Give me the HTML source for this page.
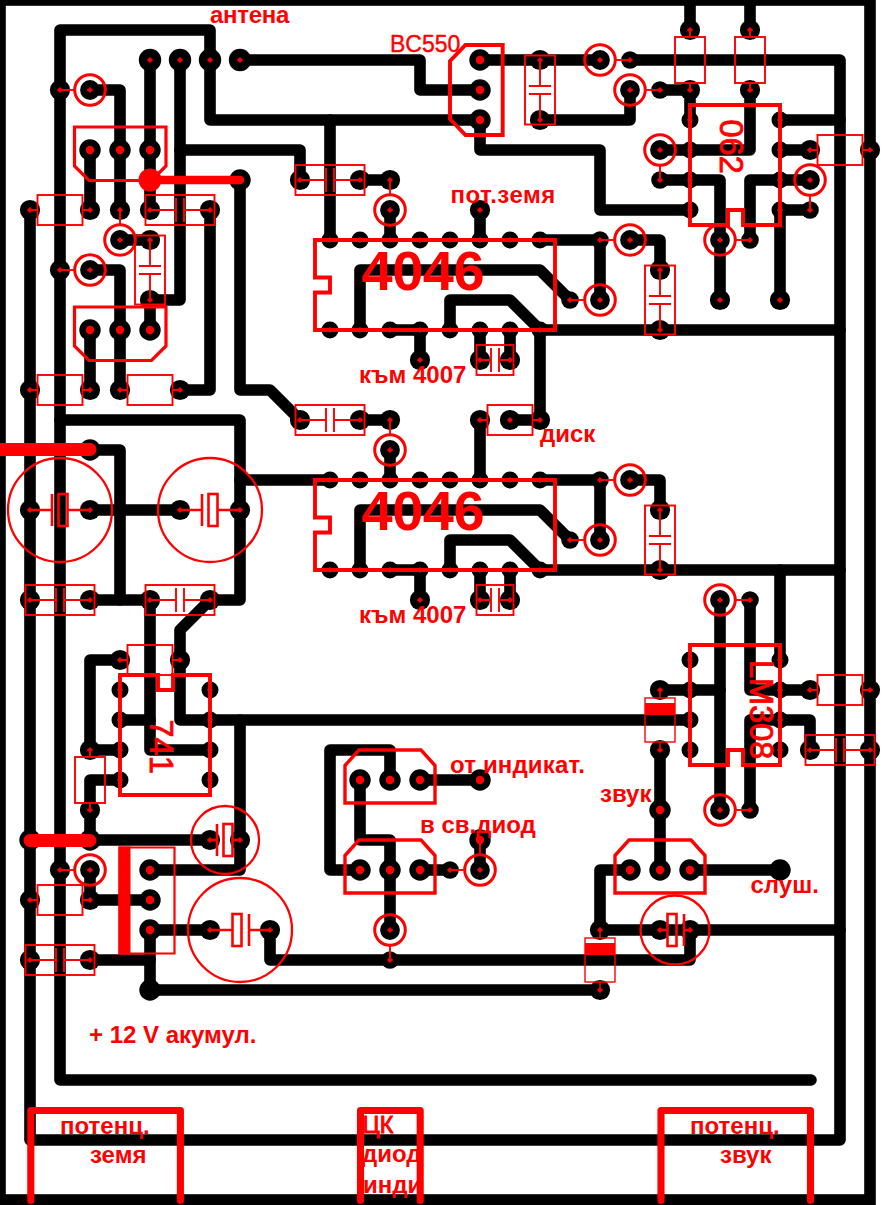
<!DOCTYPE html>
<html><head><meta charset="utf-8"><title>PCB</title>
<style>html,body{margin:0;padding:0;background:#fff}svg{display:block}</style></head>
<body>
<svg width="886" height="1205" viewBox="0 0 886 1205">
<rect width="886" height="1205" fill="#fff"/>
<g fill="none" stroke="#000" stroke-linecap="round" stroke-linejoin="round">
<rect x="0" y="0" width="870" height="1200" stroke-width="11.6" stroke-linejoin="miter"/>
<path d="M811,1080 L60,1080 L60,30 L210,30 L210,120 L480,120 L480,150 L600,150 L600,210 L690,210" stroke-width="11.6"/>
<path d="M60,420 L240,420 L240,600 L210,600 L180,630 L180,720 L690,720" stroke-width="11.6"/>
<path d="M330,120 L330,240" stroke-width="11.6"/>
<path d="M150,60 L150,210" stroke-width="11.6"/>
<path d="M180,60 L180,300 L150,300 L150,330" stroke-width="11.6"/>
<path d="M180,150 L300,150 L300,180" stroke-width="11.6"/>
<path d="M120,240 L150,240" stroke-width="11.6"/>
<path d="M240,60 L420,60 L420,90 L480,90" stroke-width="11.6"/>
<path d="M480,60 L600,60" stroke-width="11.6"/>
<path d="M630,60 L840,60 L840,1140 L30,1140 L30,210" stroke-width="11.6"/>
<path d="M90,90 L120,90 L120,210" stroke-width="11.6"/>
<path d="M90,150 L90,210" stroke-width="11.6"/>
<path d="M210,210 L210,390 L180,390" stroke-width="11.6"/>
<path d="M240,180 L240,390 L270,390 L300,420" stroke-width="11.6"/>
<path d="M90,270 L120,270 L120,390" stroke-width="11.6"/>
<path d="M90,330 L90,390" stroke-width="11.6"/>
<path d="M360,180 L390,180" stroke-width="11.6"/>
<path d="M390,210 L390,240" stroke-width="11.6"/>
<path d="M480,210 L480,240" stroke-width="11.6"/>
<path d="M540,240 L600,240 L600,300" stroke-width="11.6"/>
<path d="M630,240 L660,240 L660,270" stroke-width="11.6"/>
<path d="M630,90 L630,120 L540,120" stroke-width="11.6"/>
<path d="M660,90 L690,90 L690,120" stroke-width="11.6"/>
<path d="M690,0 L690,30" stroke-width="11.6"/>
<path d="M750,0 L750,30" stroke-width="11.6"/>
<path d="M750,90 L750,150 L660,150" stroke-width="11.6"/>
<path d="M660,180 L720,180 L720,300" stroke-width="11.6"/>
<path d="M780,120 L840,120" stroke-width="11.6"/>
<path d="M780,150 L810,150" stroke-width="11.6"/>
<path d="M810,180 L750,180 L750,240" stroke-width="11.6"/>
<path d="M810,210 L780,210 L780,300" stroke-width="11.6"/>
<path d="M360,330 L360,270 L540,270 L570,300" stroke-width="11.6"/>
<path d="M450,330 L450,300 L510,300 L540,330" stroke-width="11.6"/>
<path d="M390,330 L420,330 L420,360" stroke-width="11.6"/>
<path d="M480,330 L480,360" stroke-width="11.6"/>
<path d="M510,330 L510,360" stroke-width="11.6"/>
<path d="M510,420 L540,420 L540,330 L840,330" stroke-width="11.6"/>
<path d="M480,420 L480,480" stroke-width="11.6"/>
<path d="M360,420 L390,420" stroke-width="11.6"/>
<path d="M390,450 L390,480" stroke-width="11.6"/>
<path d="M240,480 L330,480" stroke-width="11.6"/>
<path d="M360,570 L360,510 L540,510 L570,540" stroke-width="11.6"/>
<path d="M450,570 L450,540 L510,540 L540,570" stroke-width="11.6"/>
<path d="M390,570 L420,570 L420,600" stroke-width="11.6"/>
<path d="M480,570 L480,600" stroke-width="11.6"/>
<path d="M510,570 L510,600" stroke-width="11.6"/>
<path d="M540,570 L840,570" stroke-width="11.6"/>
<path d="M540,480 L600,480 L600,540" stroke-width="11.6"/>
<path d="M630,480 L660,480 L660,510" stroke-width="11.6"/>
<path d="M780,570 L780,660" stroke-width="11.6"/>
<path d="M90,450 L120,450 L120,600" stroke-width="11.6"/>
<path d="M90,510 L180,510" stroke-width="11.6"/>
<path d="M90,600 L150,600 L150,750 L210,750" stroke-width="11.6"/>
<path d="M240,720 L240,870 L150,870" stroke-width="11.6"/>
<path d="M120,720 L150,720" stroke-width="11.6"/>
<path d="M120,660 L90,660 L90,750 L120,750" stroke-width="11.6"/>
<path d="M120,780 L90,780 L90,840 L210,840" stroke-width="11.6"/>
<path d="M90,870 L90,900 L150,900" stroke-width="11.6"/>
<path d="M150,930 L150,990 L600,990" stroke-width="11.6"/>
<path d="M90,960 L150,960" stroke-width="11.6"/>
<path d="M150,930 L210,930" stroke-width="11.6"/>
<path d="M270,930 L270,960 L690,960 L690,930" stroke-width="11.6"/>
<path d="M390,870 L390,930" stroke-width="11.6"/>
<path d="M390,780 L390,750 L330,750 L330,870 L360,870" stroke-width="11.6"/>
<path d="M360,780 L360,840 L390,840 L390,870" stroke-width="11.6"/>
<path d="M420,780 L480,780" stroke-width="11.6"/>
<path d="M420,870 L450,870" stroke-width="11.6"/>
<path d="M480,840 L480,870" stroke-width="11.6"/>
<path d="M660,750 L660,870" stroke-width="11.6"/>
<path d="M660,690 L720,690" stroke-width="11.6"/>
<path d="M720,600 L720,810" stroke-width="11.6"/>
<path d="M750,600 L750,690 L810,690" stroke-width="11.6"/>
<path d="M750,810 L750,720 L810,720 L810,750" stroke-width="11.6"/>
<path d="M690,870 L780,870" stroke-width="11.6"/>
<path d="M630,870 L600,870 L600,930 L840,930" stroke-width="11.6"/>
</g>
<g fill="#000">
<circle cx="150" cy="60" r="11.2"/>
<circle cx="180" cy="60" r="11.2"/>
<circle cx="210" cy="60" r="11.2"/>
<circle cx="240" cy="60" r="11.2"/>
<circle cx="60" cy="90" r="10.1"/>
<circle cx="90" cy="90" r="9.9"/>
<circle cx="90" cy="150" r="10.7"/>
<circle cx="120" cy="150" r="10.7"/>
<circle cx="150" cy="150" r="10.7"/>
<circle cx="30" cy="210" r="10.1"/>
<circle cx="90" cy="210" r="10.1"/>
<circle cx="120" cy="210" r="10.1"/>
<circle cx="150" cy="210" r="10.1"/>
<circle cx="210" cy="210" r="10.1"/>
<circle cx="240" cy="180" r="10.7"/>
<circle cx="120" cy="240" r="9.9"/>
<circle cx="150" cy="240" r="10.1"/>
<circle cx="150" cy="300" r="10.1"/>
<circle cx="60" cy="270" r="10.1"/>
<circle cx="90" cy="270" r="9.9"/>
<circle cx="90" cy="330" r="10.7"/>
<circle cx="120" cy="330" r="10.7"/>
<circle cx="150" cy="330" r="10.7"/>
<circle cx="30" cy="390" r="10.1"/>
<circle cx="90" cy="390" r="10.1"/>
<circle cx="120" cy="390" r="10.1"/>
<circle cx="180" cy="390" r="10.1"/>
<circle cx="90" cy="450" r="10.7"/>
<circle cx="30" cy="510" r="10.1"/>
<circle cx="90" cy="510" r="10.1"/>
<circle cx="180" cy="510" r="10.1"/>
<circle cx="240" cy="510" r="10.1"/>
<circle cx="30" cy="600" r="10.1"/>
<circle cx="90" cy="600" r="10.1"/>
<circle cx="150" cy="600" r="10.1"/>
<circle cx="210" cy="600" r="10.1"/>
<circle cx="120" cy="660" r="10.1"/>
<circle cx="180" cy="660" r="10.1"/>
<circle cx="90" cy="750" r="10.1"/>
<circle cx="90" cy="810" r="10.1"/>
<circle cx="30" cy="840" r="10.7"/>
<circle cx="90" cy="840" r="10.7"/>
<circle cx="210" cy="840" r="10.1"/>
<circle cx="240" cy="840" r="10.1"/>
<circle cx="60" cy="870" r="10.1"/>
<circle cx="90" cy="870" r="9.9"/>
<circle cx="30" cy="900" r="10.1"/>
<circle cx="90" cy="900" r="10.1"/>
<circle cx="150" cy="870" r="10.7"/>
<circle cx="150" cy="900" r="10.7"/>
<circle cx="150" cy="930" r="10.7"/>
<circle cx="30" cy="960" r="10.1"/>
<circle cx="90" cy="960" r="10.1"/>
<circle cx="150" cy="990" r="10.7"/>
<circle cx="210" cy="930" r="10.1"/>
<circle cx="270" cy="930" r="10.1"/>
<circle cx="480" cy="60" r="10.7"/>
<circle cx="480" cy="90" r="10.7"/>
<circle cx="480" cy="120" r="10.7"/>
<circle cx="540" cy="60" r="10.1"/>
<circle cx="540" cy="120" r="10.1"/>
<circle cx="600" cy="60" r="9.9"/>
<circle cx="630" cy="60" r="8.8"/>
<circle cx="630" cy="90" r="9.9"/>
<circle cx="660" cy="90" r="8.8"/>
<circle cx="690" cy="30" r="10.1"/>
<circle cx="690" cy="90" r="10.1"/>
<circle cx="750" cy="30" r="10.1"/>
<circle cx="750" cy="90" r="10.1"/>
<circle cx="660" cy="150" r="9.9"/>
<circle cx="660" cy="180" r="8.8"/>
<circle cx="810" cy="150" r="10.1"/>
<circle cx="870" cy="150" r="10.1"/>
<circle cx="810" cy="180" r="9.9"/>
<circle cx="810" cy="210" r="8.8"/>
<circle cx="720" cy="240" r="9.9"/>
<circle cx="750" cy="240" r="8.8"/>
<circle cx="600" cy="240" r="8.8"/>
<circle cx="630" cy="240" r="9.9"/>
<circle cx="660" cy="270" r="10.1"/>
<circle cx="660" cy="330" r="10.1"/>
<circle cx="570" cy="300" r="8.8"/>
<circle cx="600" cy="300" r="9.9"/>
<circle cx="720" cy="300" r="10.1"/>
<circle cx="780" cy="300" r="10.1"/>
<circle cx="300" cy="180" r="10.1"/>
<circle cx="360" cy="180" r="10.1"/>
<circle cx="390" cy="180" r="10.1"/>
<circle cx="390" cy="210" r="9.9"/>
<circle cx="480" cy="210" r="10.1"/>
<circle cx="420" cy="360" r="10.1"/>
<circle cx="480" cy="360" r="10.1"/>
<circle cx="510" cy="360" r="10.1"/>
<circle cx="300" cy="420" r="10.1"/>
<circle cx="360" cy="420" r="10.1"/>
<circle cx="390" cy="420" r="10.1"/>
<circle cx="390" cy="450" r="9.9"/>
<circle cx="480" cy="420" r="10.1"/>
<circle cx="510" cy="420" r="10.1"/>
<circle cx="540" cy="420" r="10.1"/>
<circle cx="600" cy="480" r="8.8"/>
<circle cx="630" cy="480" r="9.9"/>
<circle cx="660" cy="510" r="10.1"/>
<circle cx="660" cy="570" r="10.1"/>
<circle cx="570" cy="540" r="8.8"/>
<circle cx="600" cy="540" r="9.9"/>
<circle cx="420" cy="600" r="10.1"/>
<circle cx="480" cy="600" r="10.1"/>
<circle cx="510" cy="600" r="10.1"/>
<circle cx="720" cy="600" r="9.9"/>
<circle cx="750" cy="600" r="8.8"/>
<circle cx="660" cy="690" r="10.1"/>
<circle cx="660" cy="750" r="10.1"/>
<circle cx="810" cy="690" r="10.1"/>
<circle cx="870" cy="690" r="10.1"/>
<circle cx="810" cy="750" r="10.1"/>
<circle cx="870" cy="750" r="10.1"/>
<circle cx="660" cy="810" r="10.7"/>
<circle cx="720" cy="810" r="9.9"/>
<circle cx="750" cy="810" r="8.8"/>
<circle cx="360" cy="780" r="10.7"/>
<circle cx="390" cy="780" r="10.7"/>
<circle cx="420" cy="780" r="10.7"/>
<circle cx="480" cy="780" r="10.7"/>
<circle cx="360" cy="870" r="10.7"/>
<circle cx="390" cy="870" r="10.7"/>
<circle cx="420" cy="870" r="10.7"/>
<circle cx="450" cy="870" r="8.8"/>
<circle cx="480" cy="870" r="9.9"/>
<circle cx="480" cy="840" r="10.7"/>
<circle cx="390" cy="930" r="9.9"/>
<circle cx="390" cy="960" r="8.8"/>
<circle cx="630" cy="870" r="10.7"/>
<circle cx="660" cy="870" r="10.7"/>
<circle cx="690" cy="870" r="10.7"/>
<circle cx="780" cy="870" r="10.7"/>
<circle cx="600" cy="930" r="10.1"/>
<circle cx="600" cy="990" r="10.1"/>
<circle cx="660" cy="930" r="10.1"/>
<circle cx="690" cy="930" r="10.1"/>
<circle cx="330" cy="240" r="8.5"/>
<circle cx="330" cy="330" r="8.5"/>
<circle cx="330" cy="480" r="8.5"/>
<circle cx="330" cy="570" r="8.5"/>
<circle cx="360" cy="240" r="8.5"/>
<circle cx="360" cy="330" r="8.5"/>
<circle cx="360" cy="480" r="8.5"/>
<circle cx="360" cy="570" r="8.5"/>
<circle cx="390" cy="240" r="8.5"/>
<circle cx="390" cy="330" r="8.5"/>
<circle cx="390" cy="480" r="8.5"/>
<circle cx="390" cy="570" r="8.5"/>
<circle cx="420" cy="240" r="8.5"/>
<circle cx="420" cy="330" r="8.5"/>
<circle cx="420" cy="480" r="8.5"/>
<circle cx="420" cy="570" r="8.5"/>
<circle cx="450" cy="240" r="8.5"/>
<circle cx="450" cy="330" r="8.5"/>
<circle cx="450" cy="480" r="8.5"/>
<circle cx="450" cy="570" r="8.5"/>
<circle cx="480" cy="240" r="8.5"/>
<circle cx="480" cy="330" r="8.5"/>
<circle cx="480" cy="480" r="8.5"/>
<circle cx="480" cy="570" r="8.5"/>
<circle cx="510" cy="240" r="8.5"/>
<circle cx="510" cy="330" r="8.5"/>
<circle cx="510" cy="480" r="8.5"/>
<circle cx="510" cy="570" r="8.5"/>
<circle cx="540" cy="240" r="8.5"/>
<circle cx="540" cy="330" r="8.5"/>
<circle cx="540" cy="480" r="8.5"/>
<circle cx="540" cy="570" r="8.5"/>
<circle cx="690" cy="120" r="8.5"/>
<circle cx="780" cy="120" r="8.5"/>
<circle cx="690" cy="150" r="8.5"/>
<circle cx="780" cy="150" r="8.5"/>
<circle cx="690" cy="180" r="8.5"/>
<circle cx="780" cy="180" r="8.5"/>
<circle cx="690" cy="210" r="8.5"/>
<circle cx="780" cy="210" r="8.5"/>
<circle cx="690" cy="660" r="8.5"/>
<circle cx="780" cy="660" r="8.5"/>
<circle cx="690" cy="690" r="8.5"/>
<circle cx="780" cy="690" r="8.5"/>
<circle cx="690" cy="720" r="8.5"/>
<circle cx="780" cy="720" r="8.5"/>
<circle cx="690" cy="750" r="8.5"/>
<circle cx="780" cy="750" r="8.5"/>
<circle cx="120" cy="690" r="8.5"/>
<circle cx="210" cy="690" r="8.5"/>
<circle cx="120" cy="720" r="8.5"/>
<circle cx="210" cy="720" r="8.5"/>
<circle cx="120" cy="750" r="8.5"/>
<circle cx="210" cy="750" r="8.5"/>
<circle cx="120" cy="780" r="8.5"/>
<circle cx="210" cy="780" r="8.5"/>
</g>
<g fill="none" stroke="#f00" stroke-width="1.9">
<rect x="37.5" y="195" width="45" height="30"/>
<path d="M30,210H37.5M82.5,210H90"/>
<rect x="37.5" y="375" width="45" height="30"/>
<path d="M30,390H37.5M82.5,390H90"/>
<rect x="127.5" y="375" width="45" height="30"/>
<path d="M120,390H127.5M172.5,390H180"/>
<rect x="127.5" y="645" width="45" height="30"/>
<path d="M120,660H127.5M172.5,660H180"/>
<rect x="37.5" y="885" width="45" height="30"/>
<path d="M30,900H37.5M82.5,900H90"/>
<rect x="487.5" y="405" width="45" height="30"/>
<path d="M480,420H487.5M532.5,420H540"/>
<rect x="817.5" y="135" width="45" height="30"/>
<path d="M810,150H817.5M862.5,150H870"/>
<rect x="817.5" y="675" width="45" height="30"/>
<path d="M810,690H817.5M862.5,690H870"/>
<rect x="675" y="37" width="30" height="46"/>
<path d="M690,30V37M690,83V90"/>
<rect x="735" y="37" width="30" height="46"/>
<path d="M750,30V37M750,83V90"/>
<rect x="75" y="757" width="30" height="46"/>
<path d="M90,750V757M90,803V810"/>
<rect x="145.5" y="195" width="69.0" height="30"/>
<path d="M150,210H176.0M184.0,210H210M176.0,198V222M184.0,198V222"/>
<rect x="295.5" y="165" width="69.0" height="30"/>
<path d="M300,180H326.0M334.0,180H360M326.0,168V192M334.0,168V192"/>
<rect x="295.5" y="405" width="69.0" height="30"/>
<path d="M300,420H326.0M334.0,420H360M326.0,408V432M334.0,408V432"/>
<rect x="25.5" y="585" width="69.0" height="30"/>
<path d="M30,600H56.0M64.0,600H90M56.0,588V612M64.0,588V612"/>
<rect x="145.5" y="585" width="69.0" height="30"/>
<path d="M150,600H176.0M184.0,600H210M176.0,588V612M184.0,588V612"/>
<rect x="25.5" y="945" width="69.0" height="30"/>
<path d="M30,960H56.0M64.0,960H90M56.0,948V972M64.0,948V972"/>
<rect x="805.5" y="735" width="69.0" height="30"/>
<path d="M810,750H836.0M844.0,750H870M836.0,738V762M844.0,738V762"/>
<rect x="476.5" y="345" width="37.0" height="30"/>
<path d="M480,360H491.0M499.0,360H510M491.0,348V372M499.0,348V372"/>
<rect x="476.5" y="585" width="37.0" height="30"/>
<path d="M480,600H491.0M499.0,600H510M491.0,588V612M499.0,588V612"/>
<rect x="135" y="235.5" width="30" height="69.0"/>
<path d="M150,240V266.0M150,274.0V300M139,266.0H161M139,274.0H161"/>
<rect x="525" y="55.5" width="30" height="69.0"/>
<path d="M540,60V86.0M540,94.0V120M529,86.0H551M529,94.0H551"/>
<rect x="645" y="265.5" width="30" height="69.0"/>
<path d="M660,270V296.0M660,304.0V330M649,296.0H671M649,304.0H671"/>
<rect x="645" y="505.5" width="30" height="69.0"/>
<path d="M660,510V536.0M660,544.0V570M649,536.0H671M649,544.0H671"/>
<path d="M60,90L76.0,90.0"/>
<path d="M60,270L76.0,270.0"/>
<path d="M120,210L120.0,226.0"/>
<path d="M390,180L390.0,196.0"/>
<path d="M390,420L390.0,436.0"/>
<path d="M630,60L614.0,60.0"/>
<path d="M660,90L644.0,90.0"/>
<path d="M660.0,164.0L660.0,180.0"/>
<path d="M810.0,194.0L810.0,210.0"/>
<path d="M734.0,240.0L750.0,240.0"/>
<path d="M600,240L616.0,240.0"/>
<path d="M570,300L586.0,300.0"/>
<path d="M600,480L616.0,480.0"/>
<path d="M570,540L586.0,540.0"/>
<path d="M734.0,600.0L750.0,600.0"/>
<path d="M734.0,810.0L750.0,810.0"/>
<path d="M450,870L466.0,870.0"/>
<path d="M480,840L480.0,856.0"/>
<path d="M390.0,944.0L390.0,960.0"/>
<path d="M60,870L76.0,870.0"/>
</g>
<g fill="none" stroke="#f00" stroke-width="1.4">
<rect x="645" y="698" width="30" height="44"/>
<rect x="645" y="703" width="30" height="12" fill="#f00" stroke="none"/>
<path d="M660,690V698M660,742V750"/>
<rect x="585" y="938" width="30" height="44"/>
<rect x="585" y="943" width="30" height="12" fill="#f00" stroke="none"/>
<path d="M600,930V938M600,982V990"/>
</g>
<g fill="none" stroke="#f00">
<circle cx="60" cy="510" r="52" stroke-width="2.3"/>
<path d="M30,510H52M67.5,510H90" stroke-width="2.4"/>
<path d="M52,494V526" stroke-width="2.6"/>
<rect x="58.5" y="494" width="9" height="32" stroke-width="2.6"/>
<circle cx="210" cy="510" r="52" stroke-width="2.3"/>
<path d="M180,510H202M217.5,510H240" stroke-width="2.4"/>
<path d="M202,494V526" stroke-width="2.6"/>
<rect x="208.5" y="494" width="9" height="32" stroke-width="2.6"/>
<circle cx="240" cy="930" r="52" stroke-width="2.3"/>
<path d="M210,930H232.5M249,930H270" stroke-width="2.4"/>
<path d="M249,914V946" stroke-width="2.6"/>
<rect x="232.5" y="914" width="9" height="32" stroke-width="2.6"/>
<circle cx="225" cy="840" r="34" stroke-width="2.3"/>
<path d="M210,840H217M232.5,840H240" stroke-width="2.4"/>
<path d="M217,824V856" stroke-width="2.6"/>
<rect x="223.5" y="824" width="9" height="32" stroke-width="2.6"/>
<circle cx="675" cy="930" r="34.5" stroke-width="2.3"/>
<path d="M660,930H667.5M684,930H690" stroke-width="2.4"/>
<path d="M684,914V946" stroke-width="2.6"/>
<rect x="667.5" y="914" width="9" height="32" stroke-width="2.6"/>
</g>
<g fill="none" stroke="#f00" stroke-width="3">
<circle cx="90" cy="90" r="15.3"/>
<circle cx="120" cy="240" r="15.3"/>
<circle cx="90" cy="270" r="15.3"/>
<circle cx="90" cy="870" r="15.3"/>
<circle cx="600" cy="60" r="15.3"/>
<circle cx="630" cy="90" r="15.3"/>
<circle cx="660" cy="150" r="15.3"/>
<circle cx="810" cy="180" r="15.3"/>
<circle cx="720" cy="240" r="15.3"/>
<circle cx="630" cy="240" r="15.3"/>
<circle cx="600" cy="300" r="15.3"/>
<circle cx="390" cy="210" r="15.3"/>
<circle cx="390" cy="450" r="15.3"/>
<circle cx="630" cy="480" r="15.3"/>
<circle cx="600" cy="540" r="15.3"/>
<circle cx="720" cy="600" r="15.3"/>
<circle cx="720" cy="810" r="15.3"/>
<circle cx="480" cy="870" r="15.3"/>
<circle cx="390" cy="930" r="15.3"/>
</g>
<g fill="none" stroke="#f00" stroke-width="3.9" stroke-linejoin="miter">
<path d="M74.5,127H166V166L151.5,180.5H89.0L74.5,166Z" stroke-width="3.2"/>
<path d="M74.5,307H166V346L151.5,360.5H89.0L74.5,346Z" stroke-width="3.2"/>
<path d="M345,803H435V765.5L421,750H359L345,765.5Z" stroke-width="3.4"/>
<path d="M345,893H435V855.5L421,840H359L345,855.5Z" stroke-width="3.4"/>
<path d="M615,893H705V855.5L691,840H629L615,855.5Z" stroke-width="3.4"/>
<path d="M502.7,45H465.5L450,61V119L465.5,135H502.7Z"/>
<path d="M315,240H555V330H315V292.5H330V277.5H315Z"/>
<path d="M315,480H555V570H315V532.5H330V517.5H315Z"/>
<path d="M690,105H780V225H743V210H728V225H690Z"/>
<path d="M690,645H780V765H743V750H728V765H690Z"/>
<path d="M120,675H158V690H173V675H210V795H120Z"/>
</g>
<path d="M119.5,847.5H174.5V953.5H119.5Z" fill="none" stroke="#f00" stroke-width="2.2"/>
<rect x="118.5" y="846.5" width="12" height="108" fill="#f00"/>
<g fill="none" stroke="#f00" stroke-linecap="round">
<path d="M150,180H240" stroke-width="8.5"/>
<path d="M-10,449.5H90" stroke-width="13"/>
<path d="M30,840.5H90" stroke-width="13"/>
</g>
<circle cx="150" cy="180" r="11.5" fill="#f00"/>
<g fill="none" stroke="#f00" stroke-width="7.1" stroke-linecap="round" stroke-linejoin="round">
<path d="M30.8,1200.5V1110.5H180.4V1200.5"/>
<path d="M360.5,1200.5V1110.5H420.2V1200.5"/>
<path d="M661,1200.5V1110.5H810.5V1200.5"/>
</g>
<g fill="#f00">
<path d="M146.9,60L150,56.9L153.1,60L150,63.1Z"/>
<path d="M176.9,60L180,56.9L183.1,60L180,63.1Z"/>
<path d="M206.9,60L210,56.9L213.1,60L210,63.1Z"/>
<path d="M236.9,60L240,56.9L243.1,60L240,63.1Z"/>
<path d="M56.9,90L60,86.9L63.1,90L60,93.1Z"/>
<path d="M86.9,90L90,86.9L93.1,90L90,93.1Z"/>
<circle cx="90" cy="150" r="4.2"/>
<circle cx="120" cy="150" r="4.2"/>
<circle cx="150" cy="150" r="4.2"/>
<path d="M26.9,210L30,206.9L33.1,210L30,213.1Z"/>
<path d="M86.9,210L90,206.9L93.1,210L90,213.1Z"/>
<path d="M116.9,210L120,206.9L123.1,210L120,213.1Z"/>
<path d="M146.9,210L150,206.9L153.1,210L150,213.1Z"/>
<path d="M206.9,210L210,206.9L213.1,210L210,213.1Z"/>
<path d="M116.9,240L120,236.9L123.1,240L120,243.1Z"/>
<path d="M146.9,240L150,236.9L153.1,240L150,243.1Z"/>
<path d="M146.9,300L150,296.9L153.1,300L150,303.1Z"/>
<path d="M56.9,270L60,266.9L63.1,270L60,273.1Z"/>
<path d="M86.9,270L90,266.9L93.1,270L90,273.1Z"/>
<circle cx="90" cy="330" r="4.2"/>
<circle cx="120" cy="330" r="4.2"/>
<circle cx="150" cy="330" r="4.2"/>
<path d="M26.9,390L30,386.9L33.1,390L30,393.1Z"/>
<path d="M86.9,390L90,386.9L93.1,390L90,393.1Z"/>
<path d="M116.9,390L120,386.9L123.1,390L120,393.1Z"/>
<path d="M176.9,390L180,386.9L183.1,390L180,393.1Z"/>
<path d="M26.9,510L30,506.9L33.1,510L30,513.1Z"/>
<path d="M86.9,510L90,506.9L93.1,510L90,513.1Z"/>
<path d="M176.9,510L180,506.9L183.1,510L180,513.1Z"/>
<path d="M236.9,510L240,506.9L243.1,510L240,513.1Z"/>
<path d="M26.9,600L30,596.9L33.1,600L30,603.1Z"/>
<path d="M86.9,600L90,596.9L93.1,600L90,603.1Z"/>
<path d="M146.9,600L150,596.9L153.1,600L150,603.1Z"/>
<path d="M206.9,600L210,596.9L213.1,600L210,603.1Z"/>
<path d="M116.9,660L120,656.9L123.1,660L120,663.1Z"/>
<path d="M176.9,660L180,656.9L183.1,660L180,663.1Z"/>
<path d="M86.9,750L90,746.9L93.1,750L90,753.1Z"/>
<path d="M86.9,810L90,806.9L93.1,810L90,813.1Z"/>
<path d="M206.9,840L210,836.9L213.1,840L210,843.1Z"/>
<path d="M236.9,840L240,836.9L243.1,840L240,843.1Z"/>
<path d="M56.9,870L60,866.9L63.1,870L60,873.1Z"/>
<path d="M86.9,870L90,866.9L93.1,870L90,873.1Z"/>
<path d="M26.9,900L30,896.9L33.1,900L30,903.1Z"/>
<path d="M86.9,900L90,896.9L93.1,900L90,903.1Z"/>
<circle cx="150" cy="870" r="4.2"/>
<circle cx="150" cy="900" r="4.2"/>
<circle cx="150" cy="930" r="4.2"/>
<path d="M26.9,960L30,956.9L33.1,960L30,963.1Z"/>
<path d="M86.9,960L90,956.9L93.1,960L90,963.1Z"/>
<path d="M206.9,930L210,926.9L213.1,930L210,933.1Z"/>
<path d="M266.9,930L270,926.9L273.1,930L270,933.1Z"/>
<circle cx="480" cy="60" r="4.2"/>
<circle cx="480" cy="90" r="4.2"/>
<circle cx="480" cy="120" r="4.2"/>
<path d="M536.9,60L540,56.9L543.1,60L540,63.1Z"/>
<path d="M536.9,120L540,116.9L543.1,120L540,123.1Z"/>
<path d="M596.9,60L600,56.9L603.1,60L600,63.1Z"/>
<path d="M626.9,60L630,56.9L633.1,60L630,63.1Z"/>
<path d="M626.9,90L630,86.9L633.1,90L630,93.1Z"/>
<path d="M656.9,90L660,86.9L663.1,90L660,93.1Z"/>
<path d="M686.9,30L690,26.9L693.1,30L690,33.1Z"/>
<path d="M686.9,90L690,86.9L693.1,90L690,93.1Z"/>
<path d="M746.9,30L750,26.9L753.1,30L750,33.1Z"/>
<path d="M746.9,90L750,86.9L753.1,90L750,93.1Z"/>
<path d="M656.9,150L660,146.9L663.1,150L660,153.1Z"/>
<path d="M656.9,180L660,176.9L663.1,180L660,183.1Z"/>
<path d="M806.9,150L810,146.9L813.1,150L810,153.1Z"/>
<path d="M866.9,150L870,146.9L873.1,150L870,153.1Z"/>
<path d="M806.9,180L810,176.9L813.1,180L810,183.1Z"/>
<path d="M806.9,210L810,206.9L813.1,210L810,213.1Z"/>
<path d="M716.9,240L720,236.9L723.1,240L720,243.1Z"/>
<path d="M746.9,240L750,236.9L753.1,240L750,243.1Z"/>
<path d="M596.9,240L600,236.9L603.1,240L600,243.1Z"/>
<path d="M626.9,240L630,236.9L633.1,240L630,243.1Z"/>
<path d="M656.9,270L660,266.9L663.1,270L660,273.1Z"/>
<path d="M656.9,330L660,326.9L663.1,330L660,333.1Z"/>
<path d="M566.9,300L570,296.9L573.1,300L570,303.1Z"/>
<path d="M596.9,300L600,296.9L603.1,300L600,303.1Z"/>
<path d="M716.9,300L720,296.9L723.1,300L720,303.1Z"/>
<path d="M776.9,300L780,296.9L783.1,300L780,303.1Z"/>
<path d="M296.9,180L300,176.9L303.1,180L300,183.1Z"/>
<path d="M356.9,180L360,176.9L363.1,180L360,183.1Z"/>
<path d="M386.9,180L390,176.9L393.1,180L390,183.1Z"/>
<path d="M386.9,210L390,206.9L393.1,210L390,213.1Z"/>
<path d="M476.9,210L480,206.9L483.1,210L480,213.1Z"/>
<path d="M416.9,360L420,356.9L423.1,360L420,363.1Z"/>
<path d="M476.9,360L480,356.9L483.1,360L480,363.1Z"/>
<path d="M506.9,360L510,356.9L513.1,360L510,363.1Z"/>
<path d="M296.9,420L300,416.9L303.1,420L300,423.1Z"/>
<path d="M356.9,420L360,416.9L363.1,420L360,423.1Z"/>
<path d="M386.9,420L390,416.9L393.1,420L390,423.1Z"/>
<path d="M386.9,450L390,446.9L393.1,450L390,453.1Z"/>
<path d="M476.9,420L480,416.9L483.1,420L480,423.1Z"/>
<path d="M506.9,420L510,416.9L513.1,420L510,423.1Z"/>
<path d="M536.9,420L540,416.9L543.1,420L540,423.1Z"/>
<path d="M596.9,480L600,476.9L603.1,480L600,483.1Z"/>
<path d="M626.9,480L630,476.9L633.1,480L630,483.1Z"/>
<path d="M656.9,510L660,506.9L663.1,510L660,513.1Z"/>
<path d="M656.9,570L660,566.9L663.1,570L660,573.1Z"/>
<path d="M566.9,540L570,536.9L573.1,540L570,543.1Z"/>
<path d="M596.9,540L600,536.9L603.1,540L600,543.1Z"/>
<path d="M416.9,600L420,596.9L423.1,600L420,603.1Z"/>
<path d="M476.9,600L480,596.9L483.1,600L480,603.1Z"/>
<path d="M506.9,600L510,596.9L513.1,600L510,603.1Z"/>
<path d="M716.9,600L720,596.9L723.1,600L720,603.1Z"/>
<path d="M746.9,600L750,596.9L753.1,600L750,603.1Z"/>
<path d="M656.9,690L660,686.9L663.1,690L660,693.1Z"/>
<path d="M656.9,750L660,746.9L663.1,750L660,753.1Z"/>
<path d="M806.9,690L810,686.9L813.1,690L810,693.1Z"/>
<path d="M866.9,690L870,686.9L873.1,690L870,693.1Z"/>
<path d="M806.9,750L810,746.9L813.1,750L810,753.1Z"/>
<path d="M866.9,750L870,746.9L873.1,750L870,753.1Z"/>
<circle cx="660" cy="810" r="4.2"/>
<path d="M716.9,810L720,806.9L723.1,810L720,813.1Z"/>
<path d="M746.9,810L750,806.9L753.1,810L750,813.1Z"/>
<circle cx="360" cy="780" r="4.2"/>
<circle cx="390" cy="780" r="4.2"/>
<circle cx="420" cy="780" r="4.2"/>
<circle cx="480" cy="780" r="4.2"/>
<circle cx="360" cy="870" r="4.2"/>
<circle cx="390" cy="870" r="4.2"/>
<circle cx="420" cy="870" r="4.2"/>
<path d="M446.9,870L450,866.9L453.1,870L450,873.1Z"/>
<path d="M476.9,870L480,866.9L483.1,870L480,873.1Z"/>
<circle cx="480" cy="840" r="4.2"/>
<path d="M386.9,930L390,926.9L393.1,930L390,933.1Z"/>
<path d="M386.9,960L390,956.9L393.1,960L390,963.1Z"/>
<circle cx="630" cy="870" r="4.2"/>
<circle cx="660" cy="870" r="4.2"/>
<circle cx="690" cy="870" r="4.2"/>
<path d="M596.9,930L600,926.9L603.1,930L600,933.1Z"/>
<path d="M596.9,990L600,986.9L603.1,990L600,993.1Z"/>
<path d="M656.9,930L660,926.9L663.1,930L660,933.1Z"/>
<path d="M686.9,930L690,926.9L693.1,930L690,933.1Z"/>
<path d="M326.9,240L330,236.9L333.1,240L330,243.1Z"/>
<path d="M326.9,330L330,326.9L333.1,330L330,333.1Z"/>
<path d="M326.9,480L330,476.9L333.1,480L330,483.1Z"/>
<path d="M326.9,570L330,566.9L333.1,570L330,573.1Z"/>
<path d="M356.9,240L360,236.9L363.1,240L360,243.1Z"/>
<path d="M356.9,330L360,326.9L363.1,330L360,333.1Z"/>
<path d="M356.9,480L360,476.9L363.1,480L360,483.1Z"/>
<path d="M356.9,570L360,566.9L363.1,570L360,573.1Z"/>
<path d="M386.9,240L390,236.9L393.1,240L390,243.1Z"/>
<path d="M386.9,330L390,326.9L393.1,330L390,333.1Z"/>
<path d="M386.9,480L390,476.9L393.1,480L390,483.1Z"/>
<path d="M386.9,570L390,566.9L393.1,570L390,573.1Z"/>
<path d="M416.9,240L420,236.9L423.1,240L420,243.1Z"/>
<path d="M416.9,330L420,326.9L423.1,330L420,333.1Z"/>
<path d="M416.9,480L420,476.9L423.1,480L420,483.1Z"/>
<path d="M416.9,570L420,566.9L423.1,570L420,573.1Z"/>
<path d="M446.9,240L450,236.9L453.1,240L450,243.1Z"/>
<path d="M446.9,330L450,326.9L453.1,330L450,333.1Z"/>
<path d="M446.9,480L450,476.9L453.1,480L450,483.1Z"/>
<path d="M446.9,570L450,566.9L453.1,570L450,573.1Z"/>
<path d="M476.9,240L480,236.9L483.1,240L480,243.1Z"/>
<path d="M476.9,330L480,326.9L483.1,330L480,333.1Z"/>
<path d="M476.9,480L480,476.9L483.1,480L480,483.1Z"/>
<path d="M476.9,570L480,566.9L483.1,570L480,573.1Z"/>
<path d="M506.9,240L510,236.9L513.1,240L510,243.1Z"/>
<path d="M506.9,330L510,326.9L513.1,330L510,333.1Z"/>
<path d="M506.9,480L510,476.9L513.1,480L510,483.1Z"/>
<path d="M506.9,570L510,566.9L513.1,570L510,573.1Z"/>
<path d="M536.9,240L540,236.9L543.1,240L540,243.1Z"/>
<path d="M536.9,330L540,326.9L543.1,330L540,333.1Z"/>
<path d="M536.9,480L540,476.9L543.1,480L540,483.1Z"/>
<path d="M536.9,570L540,566.9L543.1,570L540,573.1Z"/>
<path d="M686.9,120L690,116.9L693.1,120L690,123.1Z"/>
<path d="M776.9,120L780,116.9L783.1,120L780,123.1Z"/>
<path d="M686.9,150L690,146.9L693.1,150L690,153.1Z"/>
<path d="M776.9,150L780,146.9L783.1,150L780,153.1Z"/>
<path d="M686.9,180L690,176.9L693.1,180L690,183.1Z"/>
<path d="M776.9,180L780,176.9L783.1,180L780,183.1Z"/>
<path d="M686.9,210L690,206.9L693.1,210L690,213.1Z"/>
<path d="M776.9,210L780,206.9L783.1,210L780,213.1Z"/>
<path d="M686.9,660L690,656.9L693.1,660L690,663.1Z"/>
<path d="M776.9,660L780,656.9L783.1,660L780,663.1Z"/>
<path d="M686.9,690L690,686.9L693.1,690L690,693.1Z"/>
<path d="M776.9,690L780,686.9L783.1,690L780,693.1Z"/>
<path d="M686.9,720L690,716.9L693.1,720L690,723.1Z"/>
<path d="M776.9,720L780,716.9L783.1,720L780,723.1Z"/>
<path d="M686.9,750L690,746.9L693.1,750L690,753.1Z"/>
<path d="M776.9,750L780,746.9L783.1,750L780,753.1Z"/>
<path d="M116.9,690L120,686.9L123.1,690L120,693.1Z"/>
<path d="M206.9,690L210,686.9L213.1,690L210,693.1Z"/>
<path d="M116.9,720L120,716.9L123.1,720L120,723.1Z"/>
<path d="M206.9,720L210,716.9L213.1,720L210,723.1Z"/>
<path d="M116.9,750L120,746.9L123.1,750L120,753.1Z"/>
<path d="M206.9,750L210,746.9L213.1,750L210,753.1Z"/>
<path d="M116.9,780L120,776.9L123.1,780L120,783.1Z"/>
<path d="M206.9,780L210,776.9L213.1,780L210,783.1Z"/>
</g>
<g fill="#f00" font-family="Liberation Sans, sans-serif" font-weight="bold" font-size="24px">
<text x="210" y="23" letter-spacing="-0.3">антена</text>
<text x="390" y="52" font-weight="normal" font-size="23px" stroke="#f00" stroke-width="0.4">BC550</text>
<text x="450.5" y="203" letter-spacing="0.5">пот.земя</text>
<text x="359" y="383" >към 4007</text>
<text x="540" y="442" >диск</text>
<text x="359" y="623" >към 4007</text>
<text x="450" y="773" letter-spacing="0.15">от индикат.</text>
<text x="600" y="802" >звук</text>
<text x="420" y="833" >в св.диод</text>
<text x="750.5" y="892.5" >слуш.</text>
<text x="89" y="1043" >+ 12 V акумул.</text>
<text x="60" y="1134" >потенц.</text>
<text x="90" y="1163" >земя</text>
<text x="362.5" y="1132.7" font-weight="normal" font-size="23.3px" stroke="#f00" stroke-width="1">ЦК</text>
<text x="362" y="1162.3" >диод</text>
<text x="363" y="1192.6" >инди</text>
<text x="690" y="1134" >потенц.</text>
<text x="720" y="1163" >звук</text>
<text x="361.5" y="289.5" font-size="56px" letter-spacing="-0.5">4046</text>
<text x="361.5" y="529.5" font-size="56px" letter-spacing="-0.5">4046</text>
</g>
<g fill="#f00" stroke="#f00" stroke-width="0.8" font-family="Liberation Sans, sans-serif" font-size="32.5px">
<text transform="translate(720,119.5) rotate(90)">062</text>
<text transform="translate(150,719.5) rotate(90)">741</text>
<text transform="translate(750,660) rotate(90)">LM308</text>
</g>
</svg>
</body></html>
